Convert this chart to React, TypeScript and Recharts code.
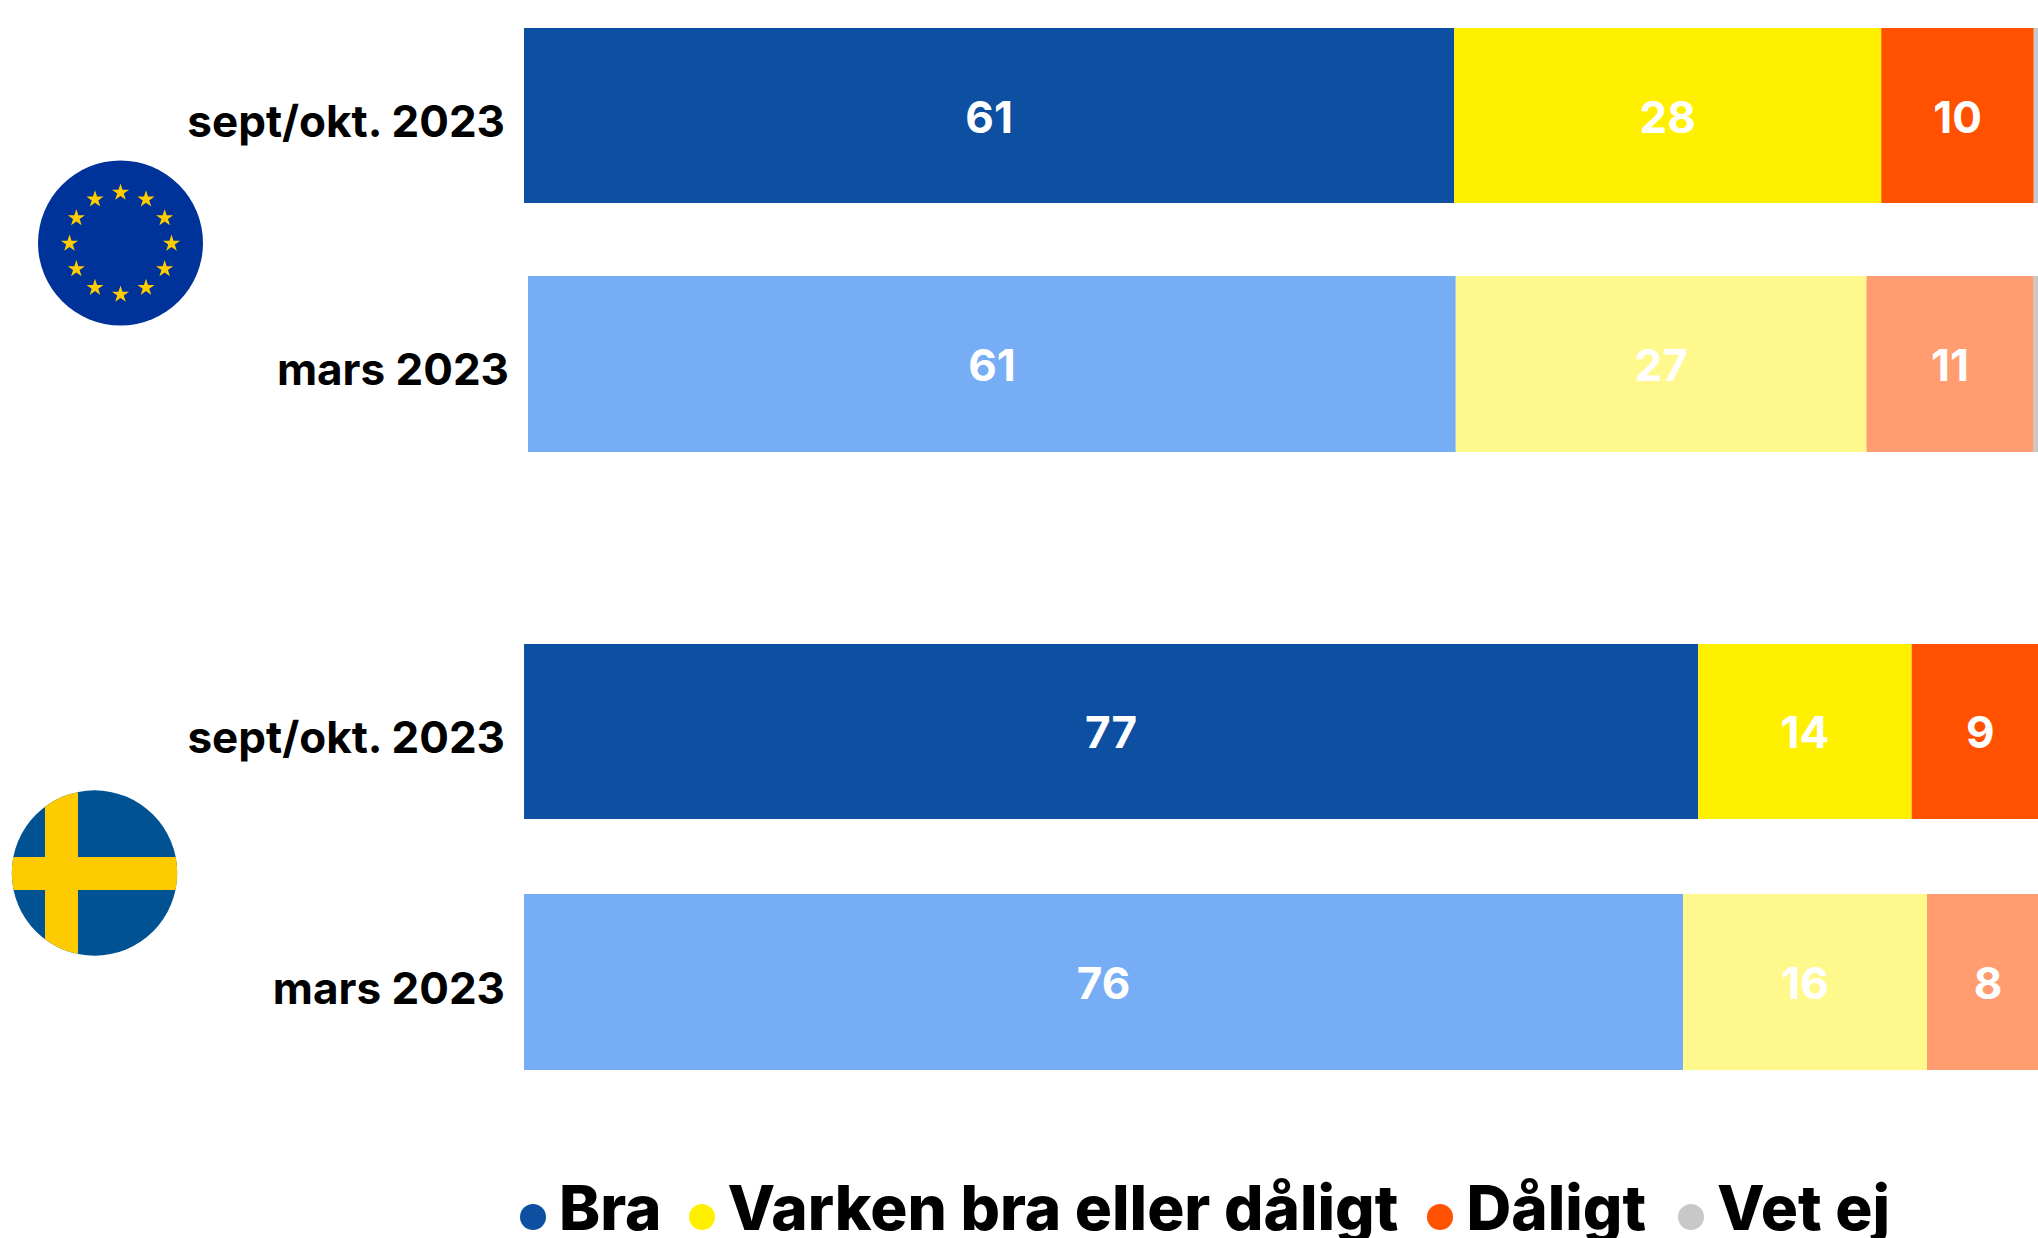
import React from "react";
import { BarChart, Bar, XAxis, YAxis, LabelList, Legend } from "recharts";

const FONT = "Inter, sans-serif";
const categories = ["sept/okt. 2023", "mars 2023", "sept/okt. 2023", "mars 2023"];
const braValues = [61, 61, 77, 76];
const varkenValues = [28, 27, 14, 16];
const daligtValues = [10, 11, 9, 8];
const vetEjValues = [1, 1, 0, 0];
const legendNames = ["Bra", "Varken bra eller dåligt", "Dåligt", "Vet ej"];
const strongColors = ["#0D4FA1", "#FFF000", "#FF5100", "#C8C8C8"];
const paleColors = ["#76ADF5", "#FFF88C", "#FF9D70", "#C8C8C8"];
const rowTops = [27.6, 276, 643.6, 893.8];
const rowHeights = [175.5, 175.7, 175.4, 176];
const axisWidths = [524, 528, 524, 524];
const seriesKeys = ["bra", "varken", "daligt", "vetej"];
const legendGaps = [27, 29, 32];

const rows = categories.map((label, i) => ({
  label,
  bra: braValues[i],
  varken: varkenValues[i],
  daligt: daligtValues[i],
  vetej: vetEjValues[i],
}));

const labelStyle = { fill: "#fff", fontSize: 44, fontWeight: 700, fontFamily: FONT, dy: 1 };

function LegendContent() {
  return (
    <div style={{ display: "flex", alignItems: "baseline", fontFamily: FONT, fontWeight: 800, fontSize: 62, lineHeight: "80px", color: "#000", whiteSpace: "nowrap" }}>
      {legendNames.map((name, i) => (
        <span key={name} style={{ display: "inline-flex", alignItems: "baseline", marginRight: legendGaps[i] ?? 0 }}>
          <span style={{ display: "inline-block", width: 26, height: 26, borderRadius: 13, background: strongColors[i], marginRight: 13 }} />
          {name}
        </span>
      ))}
    </div>
  );
}

function Row({ index }: { index: number }) {
  const colors = index % 2 === 0 ? strongColors : paleColors;
  return (
    <div style={{ position: "absolute", left: 0, top: rowTops[index] }}>
      <BarChart
        width={2049}
        height={rowHeights[index]}
        data={[rows[index]]}
        layout="vertical"
        barCategoryGap={0}
        margin={{ top: 0, right: 0, bottom: 0, left: 0 }}
      >
        <XAxis type="number" domain={[0, 100]} hide />
        <YAxis
          type="category"
          dataKey="label"
          width={axisWidths[index]}
          axisLine={false}
          tickLine={false}
          tickMargin={13}
          tick={{ fill: "#000", fontSize: 44, fontWeight: 700, fontFamily: FONT, dy: 6 }}
        />
        {seriesKeys.map((key, s) => (
          <Bar key={key} dataKey={key} name={legendNames[s]} stackId="a" fill={colors[s]} stroke="none" isAnimationActive={false}>
            {s < 3 ? <LabelList dataKey={key} position="center" {...labelStyle} /> : null}
          </Bar>
        ))}
        {index === 3 ? (
          <Legend
            layout="horizontal"
            verticalAlign="middle"
            content={<LegendContent />}
            wrapperStyle={{ position: "absolute", left: 520, top: 274, width: 1500, height: 80, margin: 0 }}
          />
        ) : null}
      </BarChart>
    </div>
  );
}

const starAngles = [0, 30, 60, 90, 120, 150, 180, 210, 240, 270, 300, 330];
function starPath(cx: number, cy: number, r: number) {
  const pts: string[] = [];
  for (let k = 0; k < 10; k++) {
    const a = (-90 + k * 36) * (Math.PI / 180);
    const rad = k % 2 === 0 ? r : r * 0.382;
    pts.push(`${cx + rad * Math.cos(a)},${cy + rad * Math.sin(a)}`);
  }
  return pts.join(" ");
}

function Flags() {
  return (
    <svg width={2038} height={1238} style={{ position: "absolute", left: 0, top: 0 }}>
      <defs>
        <clipPath id="se"><circle cx={94.5} cy={873} r={82.7} /></clipPath>
      </defs>
      <circle cx={120.5} cy={243} r={82.5} fill="#003399" />
      {starAngles.map((a) => (
        <polygon
          key={a}
          points={starPath(120.5 + 51 * Math.sin((a * Math.PI) / 180), 243.5 - 51 * Math.cos((a * Math.PI) / 180), 9)}
          fill="#FFCC00"
        />
      ))}
      <g clipPath="url(#se)">
        <rect x={0} y={780} width={190} height={190} fill="#005293" />
        <rect x={45} y={780} width={33} height={190} fill="#FECB00" />
        <rect x={0} y={857} width={190} height={33} fill="#FECB00" />
      </g>
    </svg>
  );
}

export default function App() {
  return (
    <div style={{ position: "absolute", left: 0, top: 0, width: 2038, height: 1238, overflow: "hidden", background: "#fff" }}>
      <Flags />
      {categories.map((_, i) => (
        <Row key={i} index={i} />
      ))}
    </div>
  );
}
